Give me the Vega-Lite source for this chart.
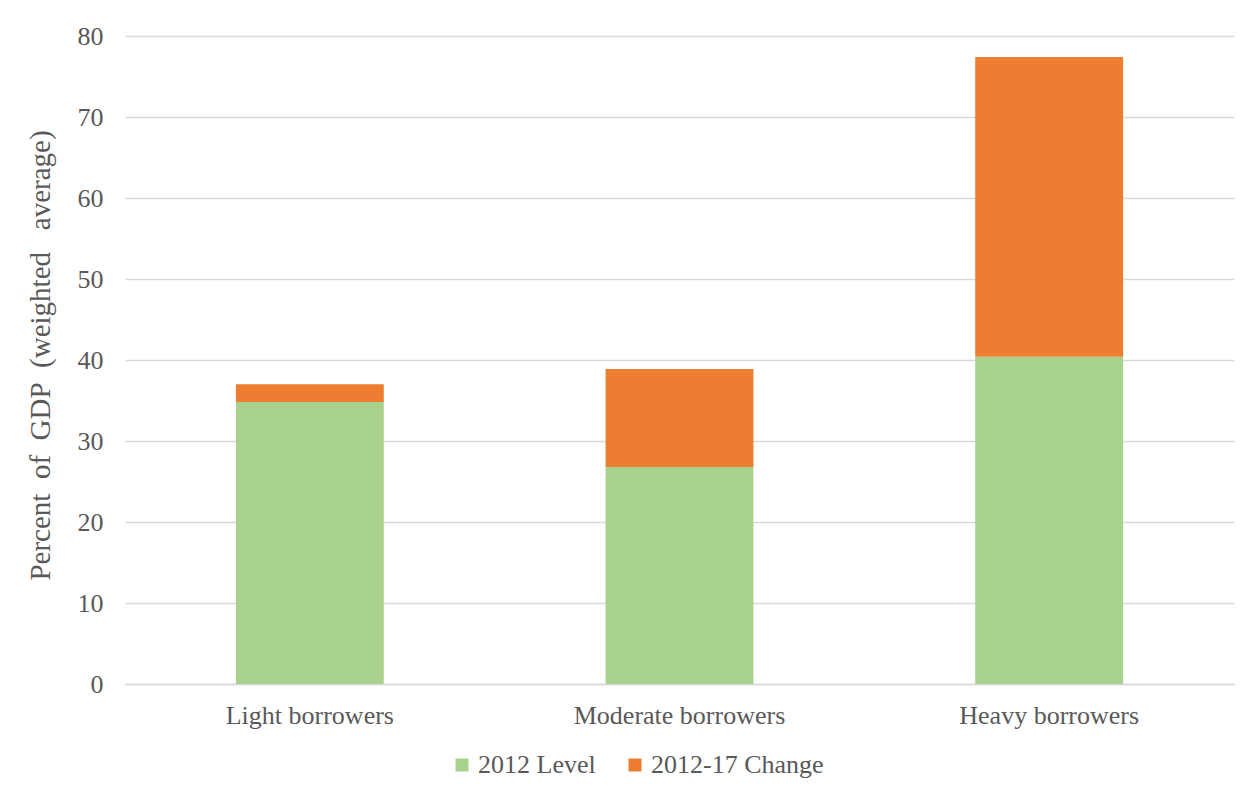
{
  "$schema": "https://vega.github.io/schema/vega-lite/v6.json",
  "width": 1109,
  "height": 648,
  "autosize": {"type": "none"},
  "padding": {"left": 125, "top": 36, "right": 14, "bottom": 109},
  "background": "white",
  "data": {
    "values": [
      {"group": "Light borrowers", "series": "2012 Level", "ord": 1, "value": 34.8},
      {"group": "Light borrowers", "series": "2012-17 Change", "ord": 2, "value": 2.2},
      {"group": "Moderate borrowers", "series": "2012 Level", "ord": 1, "value": 26.8},
      {"group": "Moderate borrowers", "series": "2012-17 Change", "ord": 2, "value": 12.1},
      {"group": "Heavy borrowers", "series": "2012 Level", "ord": 1, "value": 40.4},
      {"group": "Heavy borrowers", "series": "2012-17 Change", "ord": 2, "value": 37.0}
    ]
  },
  "mark": {"type": "bar"},
  "encoding": {
    "x": {
      "field": "group",
      "type": "nominal",
      "sort": ["Light borrowers", "Moderate borrowers", "Heavy borrowers"],
      "scale": {"paddingInner": 0.6, "paddingOuter": 0.3},
      "axis": {
        "title": null,
        "labelAngle": 0,
        "labelLimit": 0,
        "labelPadding": 18,
        "ticks": false,
        "domainColor": "#D9D9D9",
        "domainWidth": 1.5
      }
    },
    "y": {
      "field": "value",
      "type": "quantitative",
      "stack": "zero",
      "scale": {"domain": [0, 80], "nice": false},
      "axis": {
        "title": "Percent\u00a0 of\u00a0 GDP\u00a0 (weighted\u00a0\u00a0 average)",
        "titleFontWeight": "normal",
        "titlePadding": 22,
        "titleY": 319,
        "values": [0, 10, 20, 30, 40, 50, 60, 70, 80],
        "labelPadding": 22,
        "ticks": false,
        "domain": false,
        "gridColor": "#D9D9D9",
        "gridWidth": 1.5
      }
    },
    "color": {
      "field": "series",
      "type": "nominal",
      "scale": {"domain": ["2012 Level", "2012-17 Change"], "range": ["#A9D18E", "#ED7D31"]},
      "legend": {
        "title": null,
        "orient": "none",
        "legendX": 324,
        "legendY": 716,
        "direction": "horizontal",
        "symbolType": "square",
        "symbolSize": 169,
        "symbolStrokeWidth": 0,
        "labelFontSize": 26,
        "labelLimit": 0,
        "labelOffset": 3,
        "columnPadding": 26
      }
    },
    "order": {"field": "ord", "type": "quantitative"}
  },
  "config": {
    "view": {"stroke": null},
    "font": "Liberation Serif, Times New Roman, serif",
    "axis": {"labelFont": "Liberation Serif, Times New Roman, serif", "titleFont": "Liberation Serif, Times New Roman, serif", "labelFontSize": 26, "titleFontSize": 29, "labelColor": "#595959", "titleColor": "#595959"},
    "legend": {"labelFont": "Liberation Serif, Times New Roman, serif", "labelColor": "#595959"}
  }
}
